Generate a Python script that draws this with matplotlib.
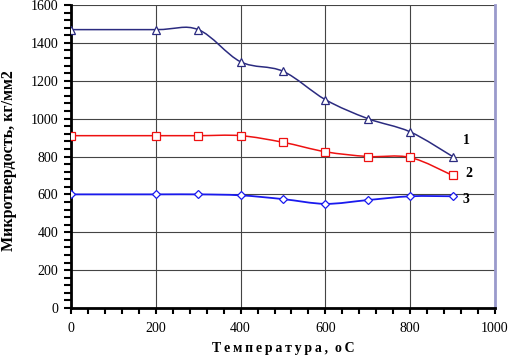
import numpy as np
import matplotlib
matplotlib.use("Agg")
import matplotlib.pyplot as plt
from matplotlib.path import Path
from matplotlib.patches import PathPatch
from matplotlib.ticker import MultipleLocator, FixedLocator

plt.rcParams['font.family'] = ['Liberation Serif', 'DejaVu Serif']

temps = [0, 200, 300, 400, 500, 600, 700, 800, 900]
series1 = [1470, 1470, 1470, 1300, 1250, 1100, 1000, 930, 800]
series2 = [910, 910, 910, 910, 875, 825, 800, 795, 700]
series3 = [600, 600, 600, 595, 575, 550, 570, 590, 590]
labels = ["1", "2", "3"]
label_pos = [(924, 885), (929, 712), (923, 572)]
xticks = [0, 200, 400, 600, 800, 1000]
yticks = [0, 200, 400, 600, 800, 1000, 1200, 1400, 1600]

fig = plt.figure(figsize=(5.11, 3.58), dpi=100)
ax = fig.add_axes([71/511, 1-308/358, 424/511, 303/358])
ax.set_xlim(0, 1000)
ax.set_ylim(0, 1600)


def smooth_path(ax, xs, ys, color, lw):
    # Catmull-Rom style smoothing (Excel "smoothed line") in display space
    pts = ax.transData.transform(np.column_stack([xs, ys]))
    verts = [pts[0]]
    codes = [Path.MOVETO]
    n = len(pts)
    for i in range(n - 1):
        p0 = pts[i - 1] if i > 0 else pts[i]
        p1 = pts[i]
        p2 = pts[i + 1]
        p3 = pts[i + 2] if i + 2 < n else pts[i + 1]
        t = 1/6
        c1 = p1 + (p2 - p0) * t
        c2 = p2 - (p3 - p1) * t
        verts += [c1, c2, p2]
        codes += [Path.CURVE4] * 3
    path = Path(ax.transData.inverted().transform(np.array(verts)), codes)
    ax.add_patch(PathPatch(path, facecolor='none', edgecolor=color, lw=lw, zorder=3))


fig.canvas.draw()
smooth_path(ax, temps, series1, '#2b2b80', 1.1)
smooth_path(ax, temps, series2, '#ee1111', 1.1)
smooth_path(ax, temps, series3, '#1a1aee', 1.3)
ax.plot(temps, series1, ls='none', marker='^', ms=6, mfc='white', mec='#2b2b80', mew=0.9, zorder=4)
ax.plot(temps, series2, ls='none', marker='s', ms=6, mfc='white', mec='#ee1111', mew=0.9, zorder=4)
ax.plot(temps, series3, ls='none', marker='D', ms=4.5, mfc='white', mec='#1a1aee', mew=0.9, zorder=4)

for lab, (x, y) in zip(labels, label_pos):
    ax.text(x, y, lab, fontsize=10, fontweight='bold', ha='left', va='center')

ax.xaxis.set_major_locator(FixedLocator(xticks))
ax.yaxis.set_major_locator(FixedLocator(yticks))
ax.xaxis.set_minor_locator(MultipleLocator(40))
ax.yaxis.set_minor_locator(MultipleLocator(40))

ax.set_xticklabels([str(t) for t in xticks], fontsize=10)
ax.set_yticklabels([str(t) for t in yticks], fontsize=10)

ax.tick_params(axis='both', which='both', direction='out', width=1.5, color='black')
ax.tick_params(axis='x', which='major', length=4, pad=6)
ax.tick_params(axis='x', which='minor', length=4)
ax.tick_params(axis='y', which='major', length=5, pad=4)
ax.tick_params(axis='y', which='minor', length=5)

ax.grid(True, which='major', color='#444444', lw=0.8)
ax.set_axisbelow(True)

for s in ['left', 'bottom']:
    ax.spines[s].set_linewidth(2)
    ax.spines[s].set_color('black')
ax.spines['right'].set_linewidth(2)
ax.spines['right'].set_color('#9a9acc')
ax.spines['top'].set_visible(False)

tsp = '\u2009'
ax.set_xlabel(tsp.join("Температура,") + "  " + tsp.join("оС"), fontsize=10, fontweight='bold', labelpad=5)
ax.set_ylabel("Микротвердость, кг/мм2", fontsize=11.5, fontweight='bold')
ax.yaxis.set_label_coords(-54/424, 0.485)

fig.savefig("out.png", dpi=100)
